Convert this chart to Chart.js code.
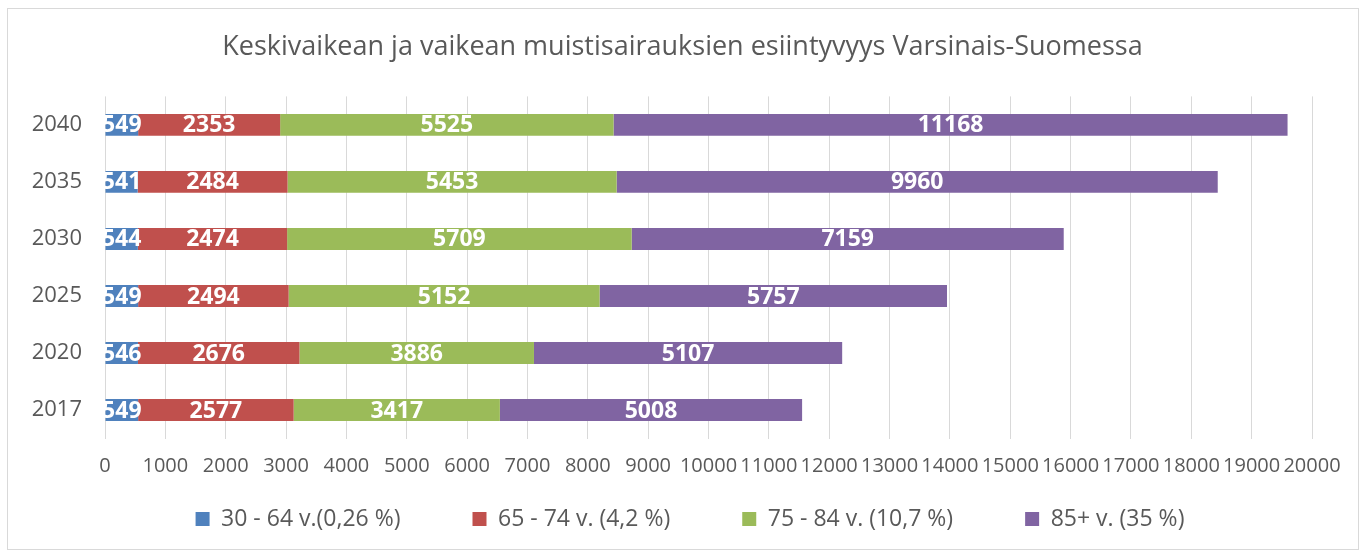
<!DOCTYPE html>
<html>
<head>
<meta charset="utf-8">
<script src="https://cdn.jsdelivr.net/npm/chart.js@4/dist/chart.umd.min.js"></script>
<style>
    html, body { margin: 0; padding: 0; background: #ffffff; }
    #wrap { position: relative; width: 1365px; height: 555px; }
</style>
</head>
<body>
<div id="wrap"><canvas id="dementiaChart"></canvas></div>
<script>
const years = ['2040', '2035', '2030', '2025', '2020', '2017'];
const age30to64 = [549, 541, 544, 549, 546, 549];
const age65to74 = [2353, 2484, 2474, 2494, 2676, 2577];
const age75to84 = [5525, 5453, 5709, 5152, 3886, 3417];
const age85plus = [11168, 9960, 7159, 5757, 5107, 5008];
const seriesNames = ['30 - 64 v.(0,26 %)', '65 - 74 v. (4,2 %)', '75 - 84 v. (10,7 %)', '85+ v. (35 %)'];
const seriesColors = ['#4f81bd', '#c0504d', '#9bbb59', '#8064a2'];

const textColor = '#595959';
const gridColor = '#d9d9d9';
const legendPad = 72;
const legendFont = 23;

// outer frame of the chart
const framePlugin = {
    id: 'frame',
    beforeDraw(chart) {
        const ctx = chart.ctx;
        ctx.save();
        ctx.fillStyle = '#ffffff';
        ctx.fillRect(0, 0, chart.width, chart.height);
        ctx.strokeStyle = '#d9d9d9';
        ctx.lineWidth = 1;
        ctx.strokeRect(7.5, 8.5, 1351, 541);
        ctx.restore();
    }
};

// move title and legend to where the original has them
const placeBoxes = {
    id: 'placeBoxes',
    afterLayout(chart) {
        const t = chart.titleBlock;
        if (t) {
            const dx = 682.5 - (t.left + t.right) / 2;
            t.left += dx;
            t.right += dx;
        }
        const lg = chart.legend;
        if (lg) {
            const dx = 690 - (lg.left + lg.right) / 2;
            lg.left += dx;
            lg.right += dx;
            // legend clips to its own box, so grow it upward
            lg.top = 519 - legendPad - legendFont / 2;
            lg.bottom = Math.max(lg.bottom, 545);
            lg.height = lg.bottom - lg.top;
        }
    }
};

// white value labels in the middle of each segment
const segmentLabels = {
    id: 'segmentLabels',
    afterDatasetsDraw(chart) {
        const ctx = chart.ctx;
        ctx.save();
        ctx.font = 'bold 23px "Open Sans"';
        ctx.fillStyle = '#ffffff';
        ctx.textAlign = 'center';
        ctx.textBaseline = 'middle';
        chart.data.datasets.forEach((ds, i) => {
            const meta = chart.getDatasetMeta(i);
            meta.data.forEach((bar, j) => {
                const x = (bar.x + bar.base) / 2;
                ctx.fillText(String(ds.data[j]), x, bar.y + 1);
            });
        });
        ctx.restore();
    }
};

const seriesData = [age30to64, age65to74, age75to84, age85plus];

new Chart(document.getElementById('dementiaChart'), {
    type: 'bar',
    data: {
        labels: years,
        datasets: seriesData.map((d, i) => ({
            label: seriesNames[i],
            data: d,
            backgroundColor: seriesColors[i],
            borderWidth: 0,
            categoryPercentage: 0.8,
            barPercentage: 0.48
        }))
    },
    options: {
        indexAxis: 'y',
        responsive: true,
        maintainAspectRatio: false,
        animation: false,
        layout: {
            padding: { left: 0, right: 53, top: 21, bottom: 36.5 }
        },
        scales: {
            x: {
                stacked: true,
                min: 0,
                max: 20000,
                ticks: {
                    stepSize: 1000,
                    autoSkip: false,
                    maxRotation: 0,
                    padding: 16,
                    color: textColor,
                    font: { family: 'Open Sans', size: 20 },
                    callback: (v) => String(v)
                },
                grid: {
                    color: gridColor,
                    drawTicks: false
                },
                border: { display: false },
                afterFit(scale) {
                    scale.height = 40;
                }
            },
            y: {
                stacked: true,
                ticks: {
                    padding: 23,
                    color: textColor,
                    font: { family: 'Open Sans', size: 22 }
                },
                grid: { display: false, drawTicks: false },
                border: { display: false },
                afterFit(scale) {
                    scale.width = 105;
                }
            }
        },
        plugins: {
            title: {
                display: true,
                text: 'Keskivaikean ja vaikean muistisairauksien esiintyvyys Varsinais-Suomessa',
                color: textColor,
                font: { family: 'Open Sans', size: 27, weight: 'normal' },
                padding: { top: 10, bottom: 33 }
            },
            legend: {
                display: true,
                position: 'bottom',
                maxHeight: 40,
                labels: {
                    color: textColor,
                    font: { family: 'Open Sans', size: legendFont },
                    boxWidth: 14,
                    boxHeight: 14,
                    padding: legendPad
                }
            },
            tooltip: { enabled: false }
        }
    },
    plugins: [framePlugin, placeBoxes, segmentLabels]
});
</script>
</body>
</html>
